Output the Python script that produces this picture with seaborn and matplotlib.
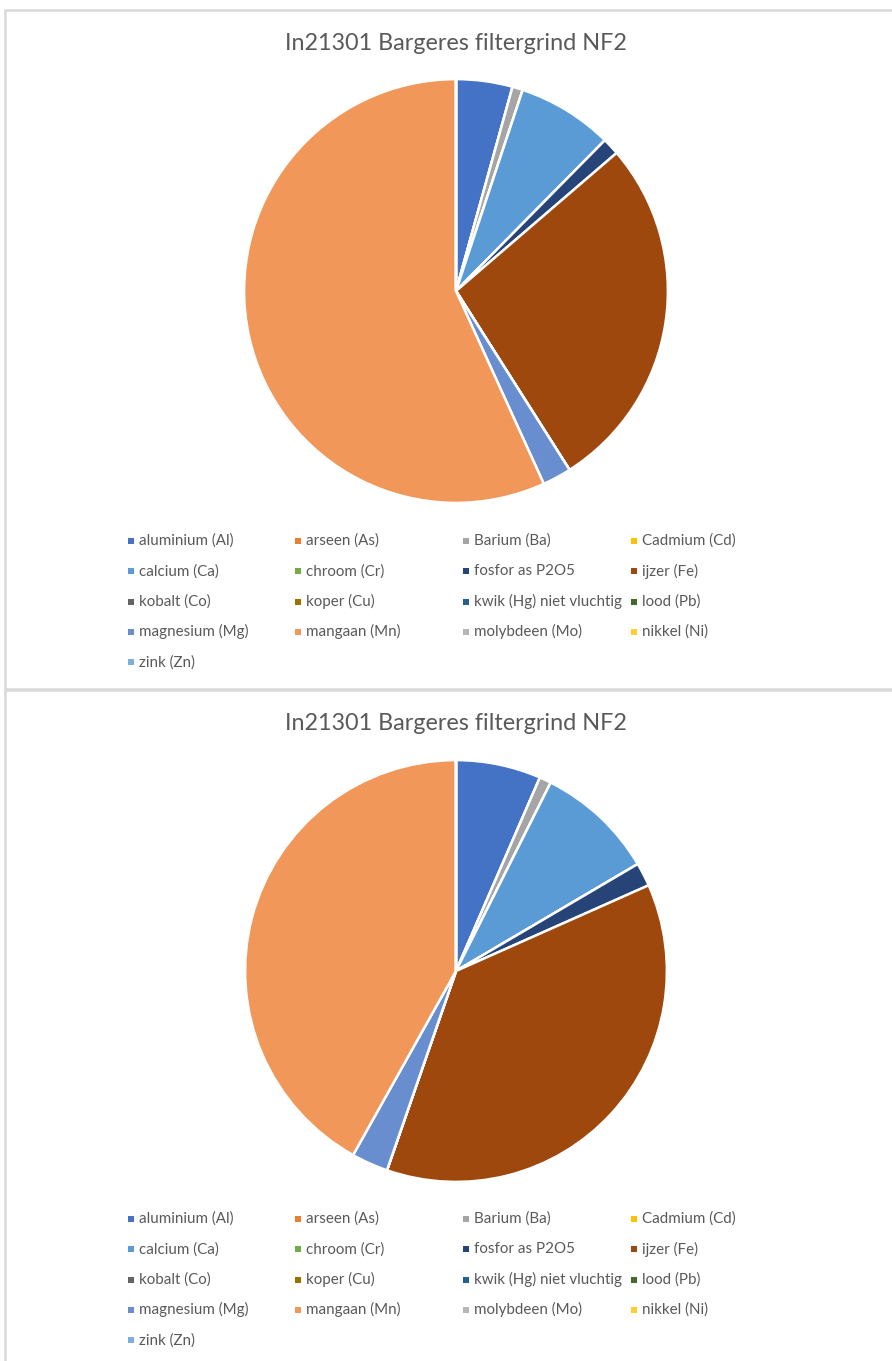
#!/usr/bin/env python3
# Two Excel-style pie charts of element composition, stacked vertically.
import seaborn as sns
import matplotlib.pyplot as plt
from matplotlib.patches import Rectangle

title = "In21301 Bargeres filtergrind NF2"

elements = [
    "aluminium (Al)", "arseen (As)", "Barium (Ba)", "Cadmium (Cd)",
    "calcium (Ca)", "chroom (Cr)", "fosfor as P2O5", "ijzer (Fe)",
    "kobalt (Co)", "koper (Cu)", "kwik (Hg) niet vluchtig", "lood (Pb)",
    "magnesium (Mg)", "mangaan (Mn)", "molybdeen (Mo)", "nikkel (Ni)",
    "zink (Zn)",
]

# share per element (%)
values_top = [4.3, 0, 0.8, 0, 7.3, 0, 1.3, 27.3, 0, 0, 0, 0, 2.2, 56.8, 0, 0, 0]
values_bottom = [6.5, 0, 0.9, 0, 9.1, 0, 1.8, 36.9, 0, 0, 0, 0, 2.8, 41.8, 0, 0, 0]

office_colors = [
    "#4472C4", "#ED7D31", "#A5A5A5", "#FFC000", "#5B9BD5", "#70AD47",
    "#264478", "#9E480E", "#636363", "#997300", "#255E91", "#43682B",
    "#698ED0", "#F1975A", "#B7B7B7", "#FFCD33", "#7CAFDD",
]

sns.set_theme(style="white")
plt.rcParams["font.family"] = ["Lato", "DejaVu Sans"]

W, H = 892, 1361
fig = plt.figure(figsize=(W / 100, H / 100), dpi=100)
palette = sns.color_palette(office_colors)
text_color = "#595959"
border = "#D9D9D9"


def fx(px):
    return px / W


def fy(py):
    return 1 - py / H


def draw_chart(values, top, cx, cy, r, legend_y0):
    # chart frame
    fig.patches.append(Rectangle((fx(5), fy(top + 679)), fx(W), 679 / H,
                                 transform=fig.transFigure, fill=False,
                                 edgecolor=border, linewidth=1.8))
    fig.text(fx(cx), fy(top + 33), title, ha="center", va="center",
             fontsize=16.8, color=text_color)

    ax = fig.add_axes([fx(cx - r), fy(cy + r), 2 * r / W, 2 * r / H])
    ax.pie(values, colors=palette, startangle=90, counterclock=False,
           radius=1, wedgeprops=dict(edgecolor="white", linewidth=1.8))
    ax.set_xlim(-1.01, 1.01)
    ax.set_ylim(-1.01, 1.01)
    ax.axis("off")

    # legend in fixed columns, like Excel
    col_x = [131, 298, 466, 634]
    row_h = 30.3
    for i, name in enumerate(elements):
        x = col_x[i % 4]
        y = legend_y0 + (i // 4) * row_h
        fig.patches.append(Rectangle((fx(x - 3), fy(y + 3)), 6 / W, 6 / H,
                                     transform=fig.transFigure,
                                     facecolor=palette[i], edgecolor="none"))
        fig.text(fx(x + 8), fy(y), name, ha="left", va="center",
                 fontsize=10.9, color=text_color)


draw_chart(values_top, 10, 456, 291, 214, 541)
draw_chart(values_bottom, 690, 456, 971, 213, 1219)

fig.savefig("out.png", dpi=100, facecolor="white")
